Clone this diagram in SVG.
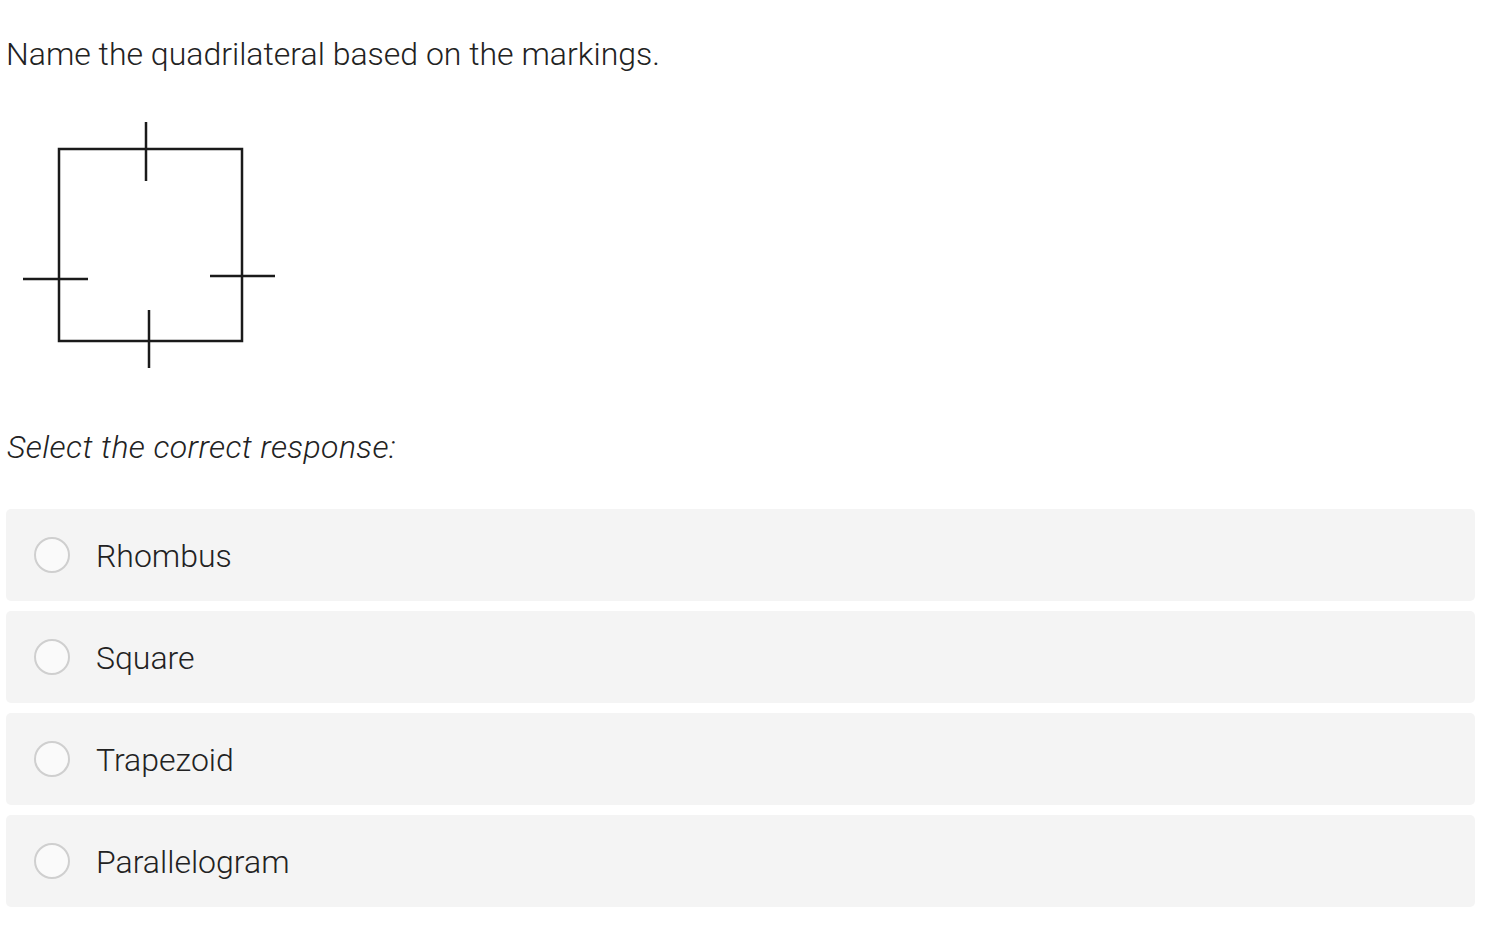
<svg xmlns="http://www.w3.org/2000/svg" width="1489" height="929" viewBox="0 0 1489 929">
<style>
text{font-family:Roboto,"Liberation Sans",sans-serif;font-weight:300;fill:#222;font-size:32px}
.panel{fill:#f4f4f4}
.radio{fill:#fafafa;stroke:#cfcfcf;stroke-width:2}
.shape{fill:none;stroke:#1a1a1a;stroke-width:2.5}
</style>
<rect width="1489" height="929" fill="#fff"/>
<text id="title" x="6" y="65">Name the quadrilateral based on the markings.</text>
<g id="figure" class="shape">
<rect x="59" y="149" width="183" height="192"/>
<line x1="146" y1="122" x2="146" y2="181"/>
<line x1="23" y1="279" x2="88" y2="279"/>
<line x1="210" y1="276" x2="275" y2="276"/>
<line x1="149" y1="310" x2="149" y2="368"/>
</g>
<text id="prompt" x="7" y="458" font-style="italic" letter-spacing="0.4">Select the correct response:</text>
<g id="opt1"><rect class="panel" x="6" y="509" width="1469" height="92" rx="5"/><circle class="radio" cx="52" cy="555" r="17"/><text x="96" y="567">Rhombus</text></g>
<g id="opt2"><rect class="panel" x="6" y="611" width="1469" height="92" rx="5"/><circle class="radio" cx="52" cy="657" r="17"/><text x="96" y="669">Square</text></g>
<g id="opt3"><rect class="panel" x="6" y="713" width="1469" height="92" rx="5"/><circle class="radio" cx="52" cy="759" r="17"/><text x="96" y="771">Trapezoid</text></g>
<g id="opt4"><rect class="panel" x="6" y="815" width="1469" height="92" rx="5"/><circle class="radio" cx="52" cy="861" r="17"/><text x="96" y="873">Parallelogram</text></g>
</svg>
